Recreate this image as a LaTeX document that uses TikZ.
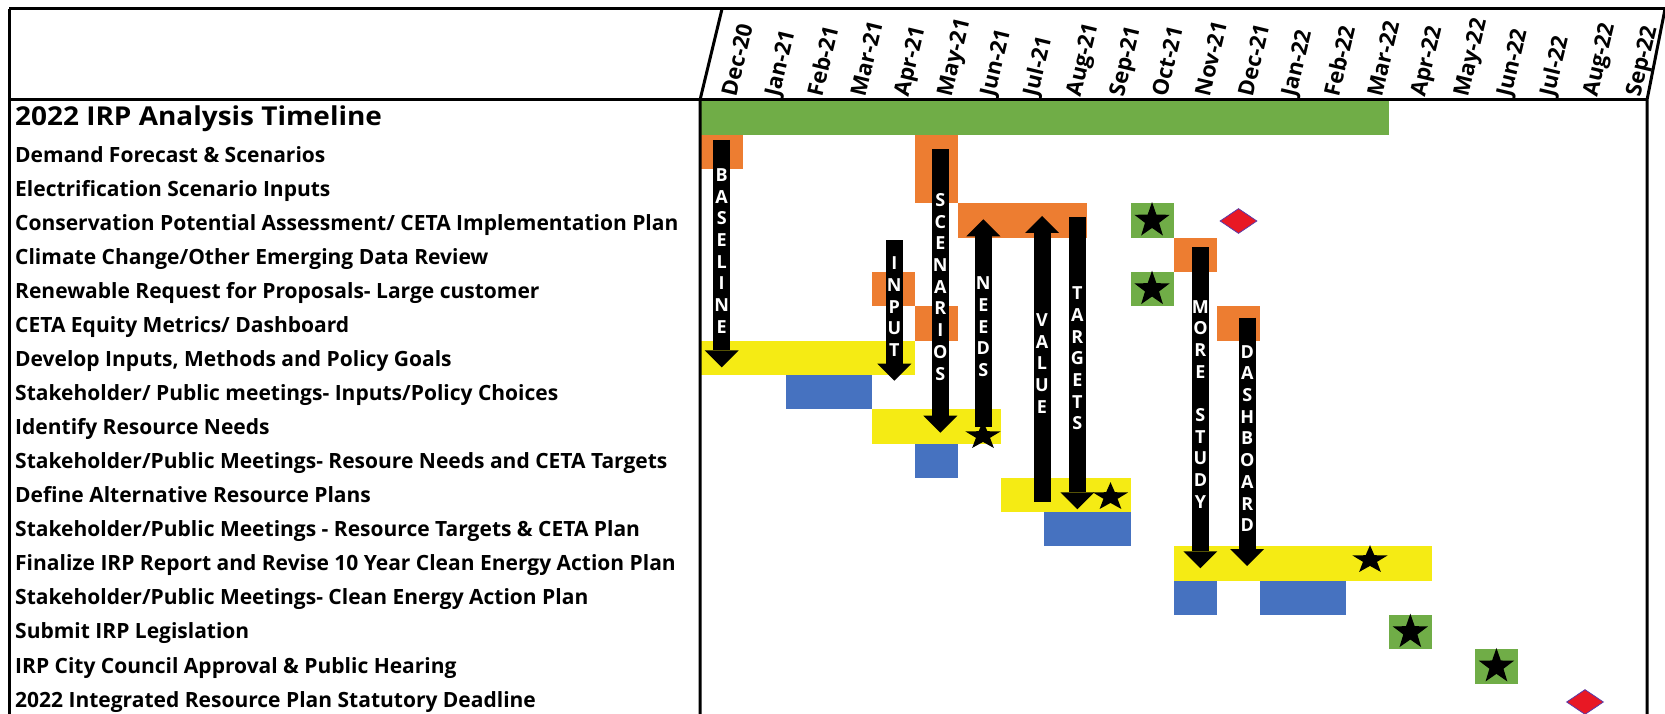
\documentclass[tikz,border=0pt]{standalone}
\usepackage{fontspec}
\setmainfont{Open Sans}
\usetikzlibrary{arrows.meta,shapes.geometric}
\definecolor{ggreen}{RGB}{112,173,71}
\definecolor{gorange}{RGB}{237,125,49}
\definecolor{gyellow}{RGB}{245,235,20}
\definecolor{gblue}{RGB}{70,114,192}
\definecolor{dred}{RGB}{232,24,36}
\definecolor{dedge}{RGB}{90,60,170}
\newcommand\ganttbar[4]{\fill[#4] ({700+43.05*#1},{100.5+34.3*#3}) rectangle ({700+43.05*(#1+#2)},{100.5+34.3*(#3+1)});}
\newcommand\starbox[3]{\ganttbar{#1}{1}{#2}{ggreen}\node[bstar] (#3) at ({700+43.05*(#1+0.5)},{100.5+34.3*(#2+0.5)}) {};}
\begin{document}
\begin{tikzpicture}[x=1pt,y=-1pt,
  rowlbl/.style={anchor=base west,inner sep=0,font=\fontsize{21}{25}\selectfont\bfseries},
  titlelbl/.style={anchor=base west,inner sep=0,font=\fontsize{26}{30}\selectfont\bfseries},
  monthlbl/.style={anchor=base west,inner sep=0,rotate=76.5,font=\fontsize{22}{25}\selectfont\bfseries},
  frame/.style={line width=3pt,black},
  bigarrow/.style={line width=17pt,black,-{Triangle[width=34pt,length=17pt,line width=0pt]}},
  lettr/.style={inner sep=0,text=white,font=\fontsize{18}{20}\selectfont\bfseries},
  bstar/.style={star,star points=5,star point ratio=2.5,fill=black,inner sep=0,minimum size=37pt},
  ustar/.style={bstar,yscale=0.8},
  mile/.style={diamond,fill=dred,draw=dedge,line width=0.8pt,inner sep=0,minimum width=37pt,minimum height=25pt},
]
\useasboundingbox (0,0) rectangle (1665,714);
\fill[white] (0,0) rectangle (1665,714);

% bars
\ganttbar{0}{16}{0}{ggreen}
\ganttbar{0}{1}{1}{gorange}
\ganttbar{5}{1}{1}{gorange}
\ganttbar{5}{1}{2}{gorange}
\ganttbar{6}{3}{3}{gorange}
\ganttbar{11}{1}{4}{gorange}
\ganttbar{4}{1}{5}{gorange}
\ganttbar{5}{1}{6}{gorange}
\ganttbar{12}{1}{6}{gorange}
\ganttbar{0}{5}{7}{gyellow}
\ganttbar{2}{2}{8}{gblue}
\ganttbar{4}{3}{9}{gyellow}
\ganttbar{5}{1}{10}{gblue}
\ganttbar{7}{3}{11}{gyellow}
\ganttbar{8}{2}{12}{gblue}
\ganttbar{11}{6}{13}{gyellow}
\ganttbar{11}{1}{14}{gblue}
\ganttbar{13}{2}{14}{gblue}

% frame
\draw[frame] (9,9) -- (1665,9);
\draw[frame] (9,9) -- (9,714);
\draw[frame] (9,100) -- (1647,100);
\draw[frame] (722,9) -- (700,100) -- (700,714);
\draw[frame] (1665,9) -- (1647,100) -- (1647,714);

% month labels
\foreach[count=\i from 0] \m in {Dec-20,Jan-21,Feb-21,Mar-21,Apr-21,May-21,Jun-21,Jul-21,Aug-21,Sep-21,Oct-21,Nov-21,Dec-21,Jan-22,Feb-22,Mar-22,Apr-22,May-22,Jun-22,Jul-22,Aug-22,Sep-22}
  \node[monthlbl] (mon\i) at ({736+43.05*\i},97.5) {\m};

% row labels
\node[titlelbl] (r0) at (15,126) {\scalebox{1.075}[1]{2022 IRP Analysis Timeline}};
\node[rowlbl] (r1) at (15,162.7) {Demand Forecast \& Scenarios};
\node[rowlbl] (r2) at (15,196.72) {Electrification Scenario Inputs};
\node[rowlbl] (r3) at (15,230.74) {Conservation Potential Assessment/ CETA Implementation Plan};
\node[rowlbl] (r4) at (15,264.76) {Climate Change/Other Emerging Data Review};
\node[rowlbl] (r5) at (15,298.78) {Renewable Request for Proposals- Large customer};
\node[rowlbl] (r6) at (15,332.8) {CETA Equity Metrics/ Dashboard};
\node[rowlbl] (r7) at (15,366.82) {Develop Inputs, Methods and Policy Goals};
\node[rowlbl] (r8) at (15,400.84) {Stakeholder/ Public meetings- Inputs/Policy Choices};
\node[rowlbl] (r9) at (15,434.86) {Identify Resource Needs};
\node[rowlbl] (r10) at (15,468.88) {Stakeholder/Public Meetings- Resoure Needs and CETA Targets};
\node[rowlbl] (r11) at (15,502.9) {Define Alternative Resource Plans};
\node[rowlbl] (r12) at (15,536.92) {Stakeholder/Public Meetings - Resource Targets \& CETA Plan};
\node[rowlbl] (r13) at (15,570.94) {Finalize IRP Report and Revise 10 Year Clean Energy Action Plan};
\node[rowlbl] (r14) at (15,604.96) {Stakeholder/Public Meetings- Clean Energy Action Plan};
\node[rowlbl] (r15) at (15,638.98) {Submit IRP Legislation};
\node[rowlbl] (r16) at (15,673.0) {IRP City Council Approval \& Public Hearing};
\node[rowlbl] (r17) at (15,707.02) {2022 Integrated Resource Plan Statutory Deadline};

% arrows
\coordinate (baseA) at (721.7,140);   \coordinate (baseB) at (721.7,367.3);
\coordinate (inpA) at (894.3,240);    \coordinate (inpB) at (894.3,380.7);
\coordinate (scenA) at (940.3,149.3); \coordinate (scenB) at (940.3,432.7);
\coordinate (needA) at (983.3,426.7); \coordinate (needB) at (983.3,219.3);
\coordinate (valA) at (1042,501.7);   \coordinate (valB) at (1042,216);
\coordinate (targA) at (1077.3,217.3);\coordinate (targB) at (1077.3,509.3);
\coordinate (moreA) at (1200.4,247.3);\coordinate (moreB) at (1200.4,568.3);
\coordinate (dashA) at (1247.2,317.7);\coordinate (dashB) at (1247.2,566);
\draw[bigarrow] (baseA) -- (baseB);
\draw[bigarrow] (inpA) -- (inpB);
\draw[bigarrow] (scenA) -- (scenB);
\draw[bigarrow] (needA) -- (needB);
\draw[bigarrow] (valA) -- (valB);
\draw[bigarrow] (targA) -- (targB);
\draw[bigarrow] (moreA) -- (moreB);
\draw[bigarrow] (dashA) -- (dashB);

% arrow letters
\foreach[count=\i from 0] \l in {B,A,S,E,L,I,N,E}
  \node[lettr] (bl\i) at (721.7,{175+21.7*\i}) {\l};
\foreach[count=\i from 0] \l in {I,N,P,U,T}
  \node[lettr] (il\i) at (894.3,{263.3+21.7*\i}) {\l};
\foreach[count=\i from 0] \l in {S,C,E,N,A,R,I,O,S}
  \node[lettr] (sl\i) at (940.3,{200+21.7*\i}) {\l};
\foreach[count=\i from 0] \l in {N,E,E,D,S}
  \node[lettr] (nl\i) at (983.3,{283.3+21.7*\i}) {\l};
\foreach[count=\i from 0] \l in {V,A,L,U,E}
  \node[lettr] (vl\i) at (1042,{320+21.7*\i}) {\l};
\foreach[count=\i from 0] \l in {T,A,R,G,E,T,S}
  \node[lettr] (tl\i) at (1077.3,{293.3+21.7*\i}) {\l};
\foreach[count=\i from 0] \l in {M,O,R,E,{},S,T,U,D,Y}
  \node[lettr] (ml\i) at (1200.4,{306.7+21.7*\i}) {\l};
\foreach[count=\i from 0] \l in {D,A,S,H,B,O,A,R,D}
  \node[lettr] (dl\i) at (1247.2,{351.7+21.7*\i}) {\l};

% milestones
\starbox{10}{3}{sb1}
\starbox{10}{5}{sb2}
\starbox{16}{15}{sb3}
\starbox{18}{16}{sb4}
\node[ustar] (us1) at (983,436) {};
\node[ustar] (us2) at (1110.5,497) {};
\node[ustar] (us3) at (1370,560) {};
\node[mile] (dm1) at (1238.5,221) {};
\node[mile] (dm2) at (1585,702) {};
\end{tikzpicture}
\end{document}
